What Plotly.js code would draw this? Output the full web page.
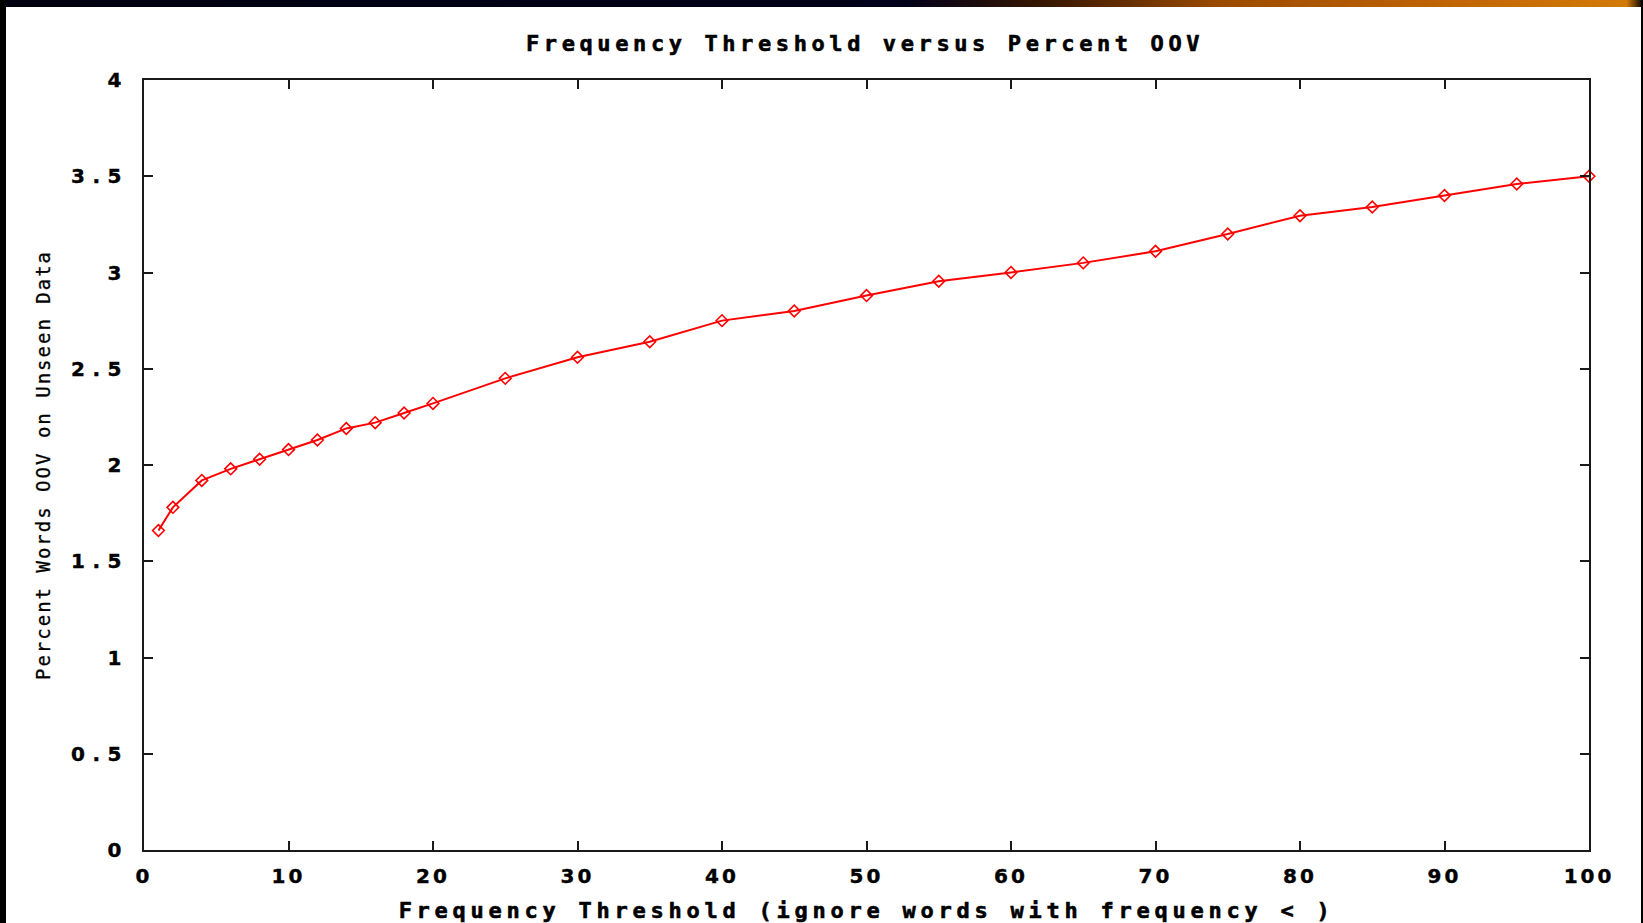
<!DOCTYPE html>
<html>
<head>
<meta charset="utf-8">
<script src="https://cdn.plot.ly/plotly-3.0.1.min.js"></script>
<style>
  html, body { margin: 0; padding: 0; background: #ffffff; overflow: hidden; }
  #wrap { position: relative; width: 1643px; height: 923px; }
  #chart { position: absolute; left: 0; top: 0; width: 1643px; height: 923px; }
  #topbar { position: absolute; left: 0; top: 0; width: 1643px; height: 7px; z-index: 5;
    background: linear-gradient(to right, #000010 0%, #00001a 55%, #3a1800 64%, #9a4a00 74%, #c06400 88%, #d27a08 99%, #000 100%); }
  #leftbar { position: absolute; left: 0; top: 0; width: 6px; height: 923px; background: #000; z-index: 5; }
  #rightbar { position: absolute; right: 0; top: 0; width: 2px; height: 923px; background: #000; z-index: 5; }
  .js-plotly-plot .gtitle { letter-spacing: 4.6px; stroke: #000; stroke-width: 0.6px; }
  .js-plotly-plot .xtitle { letter-spacing: 4.75px; stroke: #000; stroke-width: 0.6px; }
  .js-plotly-plot .ytitle { letter-spacing: 2.0px; stroke: #000; stroke-width: 0.3px; }
  .js-plotly-plot .xtick text { letter-spacing: 3px; stroke: #000; stroke-width: 0.4px; }
  .js-plotly-plot .ytick text { letter-spacing: 7.5px; stroke: #000; stroke-width: 0.4px; }
</style>
</head>
<body>
<div id="wrap">
  <div id="chart"></div>
  <div id="topbar"></div>
  <div id="leftbar"></div>
  <div id="rightbar"></div>
</div>
<script>
// Frequency threshold (x) and percent OOV words on unseen data (y)
const thresholds = [1, 2, 4, 6, 8, 10, 12, 14, 16, 18, 20, 25, 30, 35, 40, 45, 50, 55, 60, 65, 70, 75, 80, 85, 90, 95, 100];
const percentOOV = [1.66, 1.78, 1.92, 1.98, 2.03, 2.08, 2.13, 2.19, 2.22, 2.27, 2.32, 2.45, 2.56, 2.64, 2.75, 2.80, 2.88, 2.955, 3.00, 3.05, 3.11, 3.20, 3.295, 3.34, 3.40, 3.46, 3.50];

const chartTitle = "Frequency Threshold versus Percent OOV";
const xTitle = "Frequency Threshold (ignore words with frequency &lt; )";
const yTitle = "Percent Words OOV on Unseen Data";
const xTicks = [0, 10, 20, 30, 40, 50, 60, 70, 80, 90, 100];
const yTicks = [0, 0.5, 1, 1.5, 2, 2.5, 3, 3.5, 4];

const mono = "DejaVu Sans Mono, Liberation Mono, monospace";
const sans = "DejaVu Sans, Liberation Sans, sans-serif";

const trace = {
  x: thresholds,
  y: percentOOV,
  type: "scatter",
  mode: "lines+markers",
  line: { color: "#ff0000", width: 2 },
  marker: { symbol: "diamond-open", size: 9, color: "#ff0000", line: { color: "#ff0000", width: 1.6 } },
  cliponaxis: false,
  hoverinfo: "x+y"
};

const axisCommon = {
  showline: true,
  linecolor: "#1a1a1a",
  linewidth: 2,
  mirror: "ticks",
  ticks: "inside",
  ticklen: 9,
  tickwidth: 1.5,
  tickcolor: "#1a1a1a",
  showgrid: false,
  zeroline: false,
  fixedrange: true
};

const layout = {
  width: 1643,
  height: 923,
  paper_bgcolor: "#ffffff",
  plot_bgcolor: "#ffffff",
  showlegend: false,
  margin: { l: 144, r: 54, t: 80, b: 73, pad: 0 },
  title: {
    text: chartTitle,
    x: 0.5265, xref: "container", xanchor: "center",
    y: 1 - 43 / 923, yref: "container", yanchor: "middle",
    font: { family: mono, size: 22, color: "#000", weight: "bold" }
  },
  xaxis: Object.assign({}, axisCommon, {
    range: [0, 100],
    tickmode: "array",
    tickvals: xTicks,
    ticktext: xTicks.map(String),
    ticklabelstandoff: 7,
    tickfont: { family: sans, size: 20, color: "#000", weight: "bold" },
    title: { text: xTitle, standoff: 17, font: { family: mono, size: 22, color: "#000", weight: "bold" } }
  }),
  yaxis: Object.assign({}, axisCommon, {
    range: [0, 4],
    tickmode: "array",
    tickvals: yTicks,
    ticktext: yTicks.map(String),
    ticklabelstandoff: 9,
    tickfont: { family: sans, size: 20, color: "#000", weight: "bold" },
    title: { text: yTitle, standoff: 38, font: { family: mono, size: 19, color: "#000" } }
  })
};

Plotly.newPlot("chart", [trace], layout, { displayModeBar: false, responsive: false });
</script>
</body>
</html>
